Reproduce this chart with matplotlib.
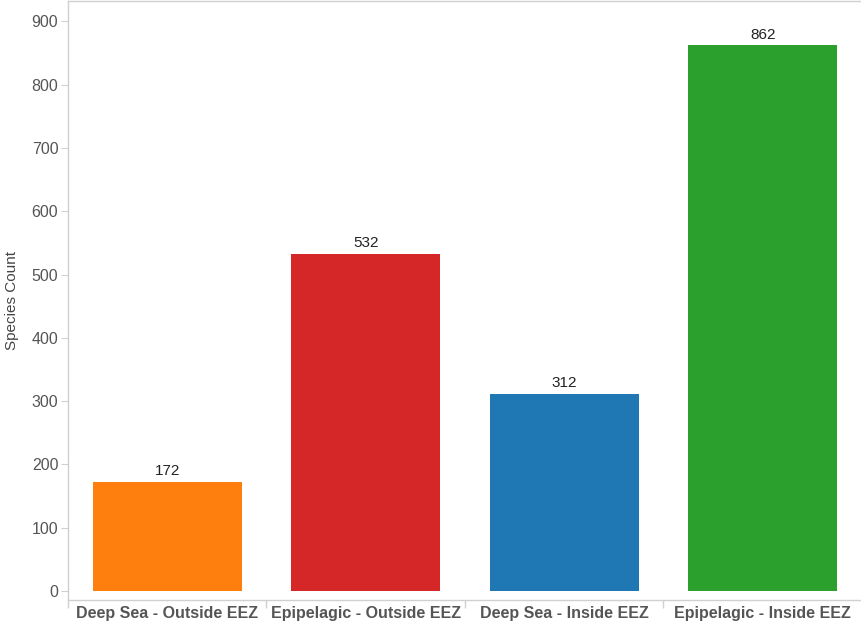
import matplotlib
matplotlib.use('Agg')
import matplotlib.pyplot as plt

categories = ["Deep Sea - Outside EEZ", "Epipelagic - Outside EEZ",
              "Deep Sea - Inside EEZ", "Epipelagic - Inside EEZ"]
species_count = [172, 532, 312, 862]
bar_colors = ["#ff7f0e", "#d62728", "#1f77b4", "#2ca02c"]
y_ticks = [0, 100, 200, 300, 400, 500, 600, 700, 800, 900]

plt.rcParams['font.family'] = ['Liberation Sans', 'DejaVu Sans']

fig = plt.figure(figsize=(8.62, 6.25), dpi=100)
ax = fig.add_axes([68 / 862, 25 / 625, 1 - 68 / 862, 599 / 625])

x = range(len(categories))
bars = ax.bar(x, species_count, width=0.75, color=bar_colors)
for b, v in zip(bars, species_count):
    ax.text(b.get_x() + b.get_width() / 2, v + 6, str(v),
            ha='center', va='bottom', fontsize=11, color='#222222')

ax.set_xlim(-0.5, 3.5)
ax.set_ylim(-14, 932)
ax.set_yticks(y_ticks)
ax.set_xticks(list(x))
ax.set_xticklabels(categories, fontsize=11.5, fontweight='bold', color='#555555')
ax.set_xticks([-0.5, 0.5, 1.5, 2.5], minor=True)
ax.tick_params(axis='x', which='major', length=0, pad=4)
ax.tick_params(axis='x', which='minor', length=6, color='#d0d0d0', width=1)
ax.tick_params(axis='y', length=5, color='#d0d0d0', labelsize=11.5,
               labelcolor='#555555', pad=2)

for side in ['left', 'bottom', 'top']:
    ax.spines[side].set_color('#d0d0d0')
    ax.spines[side].set_linewidth(1)
ax.spines['right'].set_visible(False)

ax.set_ylabel("Species Count", fontsize=11, color='#444444', labelpad=9)

fig.savefig("out.png", dpi=100)
